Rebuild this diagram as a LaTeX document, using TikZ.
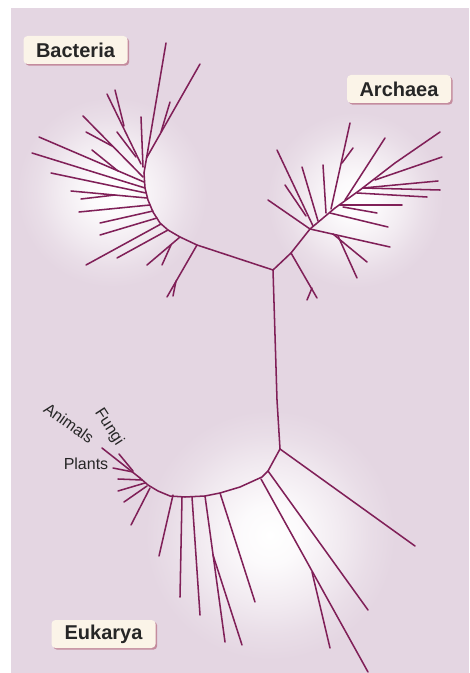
\documentclass[tikz,border=0pt]{standalone}
\usepackage{fontspec}
\setmainfont{Liberation Sans}
\usetikzlibrary{shadows}
\definecolor{bg}{RGB}{228,214,226}
\definecolor{br}{RGB}{128,32,88}
\definecolor{cream}{RGB}{251,244,232}
\definecolor{shd}{RGB}{196,140,158}
\definecolor{ink}{RGB}{38,38,38}
\pgfdeclareradialshading{glow}{\pgfpoint{0bp}{0bp}}{color(0bp)=(white); color(6bp)=(white!88!bg); color(14bp)=(white!50!bg); color(20bp)=(white!18!bg); color(25bp)=(bg); color(50bp)=(bg)}
\begin{document}
\begin{tikzpicture}[x=0.75pt,y=-0.75pt,
  br/.style={draw=br,line width=1.15pt,line cap=round,line join=round},
  lab/.style={font=\bfseries\fontsize{15}{18}\selectfont,text=ink,fill=cream,
    rounded corners=3pt,minimum width=78pt,minimum height=21pt,inner sep=0pt,
    drop shadow={shadow xshift=1.3pt,shadow yshift=-1.3pt,fill=shd,opacity=1}},
  sm/.style={font=\fontsize{12}{14}\selectfont,text=ink,inner sep=0pt}]
\useasboundingbox (0,0) rectangle (469,673);
\fill[bg] (11,8) rectangle (469,673);
% glows
\shade[shading=glow] (112,192) circle (95);
\shade[shading=glow] (355,200) circle (88);
\shade[shading=glow] (270,535) circle (125);

% junctions
\coordinate (J1) at (273,270);
\coordinate (J2) at (280,449);
\draw[br] (J1) -- (277,400) -- (J2);

% ---------- Bacteria ----------
\coordinate (B0) at (144,173);
\draw[br] (J1) -- (197,245) -- (180,237) -- (168,230) -- (160,223) -- (153,212) -- (148,200) -- (145,188) -- (B0);
\draw[br] (B0) -- (166,43);
\draw[br] (146.5,158) -- (200,64);
\draw[br] (161,132) -- (170,102);
\draw[br] (141,164) -- (107,94);
\draw[br] (124,126) -- (115,90);
\draw[br] (143,167) -- (141,117);
\draw[br] (136,157) -- (117,132);
\draw[br] (143,177) -- (83,116);
\draw[br] (112,146) -- (86,132);
\draw[br] (118,171) -- (92,150);
\draw[br] (144,182) -- (39,137);
\draw[br] (145,188) -- (32,153);
\draw[br] (146,193) -- (51,173);
\draw[br] (147,198) -- (71,191);
\draw[br] (115,195) -- (81,199);
\draw[br] (150,205) -- (79,212);
\draw[br] (153,211) -- (100,223);
\draw[br] (157,218) -- (100,235);
\draw[br] (161,224) -- (86,265);
\draw[br] (168,230) -- (117,258);
\draw[br] (180,237) -- (147,265);
\draw[br] (171,245) -- (162,265);
\draw[br] (197,245) -- (167,297);
\draw[br] (176,281) -- (173,296);

% ---------- Archaea ----------
\coordinate (A1) at (291,253);
\coordinate (A2) at (310,229);
\draw[br] (J1) -- (A1) -- (A2) -- (335,208) -- (360,190) -- (395,163) -- (440,132);
\draw[br] (A1) -- (317,298);
\draw[br] (312,288) -- (307,300);
\draw[br] (A2) -- (268,200);
\draw[br] (313,226) -- (277,150);
\draw[br] (306,216) -- (285,185);
\draw[br] (318,221) -- (302,167);
\draw[br] (326,213) -- (323,165);
\draw[br] (331,209) -- (350,123);
\draw[br] (342,163) -- (353,148);
\draw[br] (345,200) -- (385,138);
\draw[br] (330,213) -- (388,227);
\draw[br] (340,205) -- (402,205);
\draw[br] (343,207) -- (377,213);
\draw[br] (357,193) -- (427,197);
\draw[br] (363,188) -- (438,181);
\draw[br] (363,188) -- (440,190);
\draw[br] (375,180) -- (442,157);
\draw[br] (A2) -- (390,247);
\draw[br] (333,234) -- (367,262);
\draw[br] (338,236) -- (357,278);

% ---------- Eukarya ----------
\coordinate (E0) at (140,478);
\draw[br] (J2) -- (415,546);
\draw[br] (J2) -- (268,471) -- (262,477) -- (240,487) -- (220,493) -- (205,496) -- (185,497) -- (170,496) -- (158,491) -- (148,485) -- (E0);
\draw[br] (268,471) -- (368,610);
\draw[br] (261,479) -- (368,672);
\draw[br] (312,572) -- (330,648);
\draw[br] (220,493) -- (255,602);
\draw[br] (205,496) -- (225,642);
\draw[br] (213,555) -- (242,645);
\draw[br] (192,497) -- (200,615);
\draw[br] (182,497) -- (180,597);
\draw[br] (173,495) -- (159,556);
\draw[br] (E0) -- (102,448);
\draw[br] (133,471) -- (119,454);
\draw[br] (133,472) -- (113,468);
\draw[br] (142,480) -- (118,479);
\draw[br] (145,483) -- (118,491);
\draw[br] (147,486) -- (124,502);
\draw[br] (150,488) -- (131,525);

% labels
\node[lab] (bac) at (75.5,50) {Bacteria};
\node[lab] (arc) at (399,89) {Archaea};
\node[lab] (euk) at (103.5,634) {Eukarya};
\node[sm,rotate=-35.6] (ani) at (69,423) {Animals};
\node[sm,rotate=-57] (fun) at (109,427) {Fungi};
\node[sm] (pla) at (86,464) {Plants};
\end{tikzpicture}
\end{document}
